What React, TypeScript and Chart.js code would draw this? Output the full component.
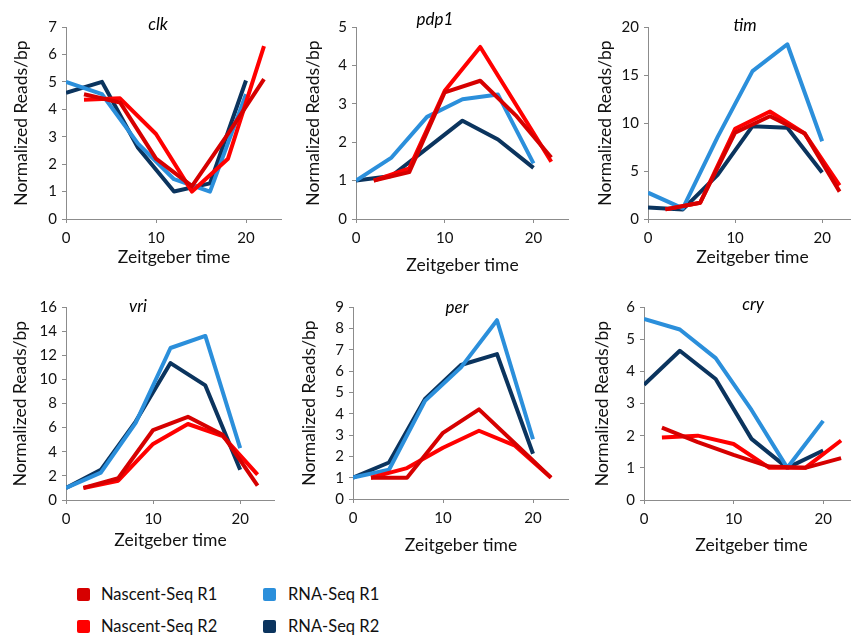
import React, { useEffect, useRef } from "react";
import { Chart, registerables } from "chart.js";
Chart.register(...registerables);

// ---- data ----
const nascentTimes = [2, 6, 10, 14, 18, 22];
const rnaTimes = [0, 4, 8, 12, 16, 20];

const clkNascentR1 = [4.55, 4.25, 2.2, 1.2, 3.1, 5.1];
const clkNascentR2 = [4.35, 4.4, 3.1, 1.0, 2.2, 6.3];
const clkRnaR1 = [5.0, 4.55, 2.75, 1.45, 1.0, 4.55];
const clkRnaR2 = [4.6, 5.0, 2.6, 1.0, 1.3, 5.05];

const pdp1NascentR1 = [1.0, 1.22, 3.3, 3.6, 2.7, 1.6];
const pdp1NascentR2 = [1.0, 1.32, 3.34, 4.48, 2.99, 1.49];
const pdp1RnaR1 = [1.0, 1.6, 2.66, 3.12, 3.24, 1.45];
const pdp1RnaR2 = [1.0, 1.12, 1.84, 2.56, 2.07, 1.33];

const timNascentR1 = [1.0, 1.7, 9.0, 10.7, 8.9, 2.85];
const timNascentR2 = [1.0, 1.7, 9.4, 11.2, 8.9, 3.5];
const timRnaR1 = [2.74, 1.1, 8.56, 15.4, 18.2, 8.1];
const timRnaR2 = [1.2, 1.0, 4.6, 9.67, 9.5, 4.85];

const vriNascentR1 = [1.0, 1.8, 5.8, 6.9, 5.4, 1.2];
const vriNascentR2 = [1.0, 1.6, 4.65, 6.3, 5.3, 2.1];
const vriRnaR1 = [1.0, 2.27, 6.4, 12.6, 13.6, 4.3];
const vriRnaR2 = [1.0, 2.5, 6.5, 11.35, 9.5, 2.5];

const perNascentR1 = [1.0, 1.0, 3.1, 4.2, 2.6, 1.0];
const perNascentR2 = [1.0, 1.45, 2.4, 3.2, 2.5, 1.0];
const perRnaR1 = [1.0, 1.37, 4.6, 6.17, 8.38, 2.8];
const perRnaR2 = [1.0, 1.71, 4.69, 6.28, 6.79, 2.12];

const cryNascentR1 = [2.25, 1.8, 1.4, 1.04, 1.0, 1.3];
const cryNascentR2 = [1.94, 2.0, 1.74, 1.0, 1.0, 1.85];
const cryRnaR1 = [5.63, 5.3, 4.41, 2.8, 1.0, 2.46];
const cryRnaR2 = [3.58, 4.64, 3.76, 1.9, 1.0, 1.54];

const seriesNames = ["Nascent-Seq R1", "Nascent-Seq R2", "RNA-Seq R1", "RNA-Seq R2"];
const seriesColors = ["#d60000", "#ff0000", "#2b8fdb", "#0b345e"];

const geneData: Record<string, number[][]> = {
  clk: [clkNascentR1, clkNascentR2, clkRnaR1, clkRnaR2],
  pdp1: [pdp1NascentR1, pdp1NascentR2, pdp1RnaR1, pdp1RnaR2],
  tim: [timNascentR1, timNascentR2, timRnaR1, timRnaR2],
  vri: [vriNascentR1, vriNascentR2, vriRnaR1, vriRnaR2],
  per: [perNascentR1, perNascentR2, perRnaR1, perRnaR2],
  cry: [cryNascentR1, cryNascentR2, cryRnaR1, cryRnaR2],
};

// ---- layout ----
const panels = [
  { name: "clk", left: 0, top: 0, axisLeft: 66, axisRight: 282, plotTop: 27, plotBottom: 219, yMax: 7, yStep: 1, yTitleX: 21, xTitleY: 257, titleX: 158, titleY: 25 },
  { name: "pdp1", left: 280, top: 0, axisLeft: 356, axisRight: 569, plotTop: 27, plotBottom: 219, yMax: 5, yStep: 1, yTitleX: 313, xTitleY: 265, titleX: 435, titleY: 20 },
  { name: "tim", left: 565, top: 0, axisLeft: 648, axisRight: 857, plotTop: 27, plotBottom: 219, yMax: 20, yStep: 5, yTitleX: 605, xTitleY: 257, titleX: 745, titleY: 26 },
  { name: "vri", left: 0, top: 280, axisLeft: 66, axisRight: 275, plotTop: 307, plotBottom: 500, yMax: 16, yStep: 2, yTitleX: 20, xTitleY: 540, titleX: 138, titleY: 307 },
  { name: "per", left: 280, top: 280, axisLeft: 353, axisRight: 569, plotTop: 307, plotBottom: 499, yMax: 9, yStep: 1, yTitleX: 309, xTitleY: 545, titleX: 457, titleY: 308 },
  { name: "cry", left: 565, top: 280, axisLeft: 644, axisRight: 859, plotTop: 307, plotBottom: 500, yMax: 6, yStep: 1, yTitleX: 602, xTitleY: 545, titleX: 753, titleY: 305 },
];

const FONT = "Lato, 'Open Sans', sans-serif";
const AXIS_COLOR = "#8c8c8c";
const TEXT_COLOR = "#111";
const XH = 60;
const TITLE_SIZE = 17.5;
const TITLE_LH = TITLE_SIZE * 1.2;

const titlePlugin = {
  id: "panelTitle",
  afterDraw(chart: any, _args: any, opts: any) {
    const ctx = chart.ctx;
    ctx.save();
    ctx.font = `italic 17px ${FONT}`;
    ctx.fillStyle = "#000";
    ctx.textAlign = "center";
    ctx.textBaseline = "middle";
    ctx.fillText(opts.text, opts.x, opts.y);
    ctx.restore();
  },
};

function Panel({ p }: { p: (typeof panels)[number] }) {
  const ref = useRef<HTMLCanvasElement>(null);
  const width = p.axisRight - p.left;
  const height = p.plotBottom + XH - p.top;
  useEffect(() => {
    const vals = geneData[p.name];
    const datasets = vals.map((arr, i) => ({
      label: seriesNames[i],
      data: arr.map((v, j) => ({ x: (i < 2 ? nascentTimes : rnaTimes)[j], y: v })),
      borderColor: seriesColors[i],
      backgroundColor: seriesColors[i],
      borderWidth: 4,
      pointRadius: 0,
      tension: 0,
      borderJoinStyle: "round" as const,
      fill: false,
    }));
    const chart = new Chart(ref.current!, {
      type: "line",
      data: { datasets },
      options: {
        animation: false,
        responsive: false,
        layout: { padding: { top: p.plotTop - p.top, left: 0, right: 0, bottom: 0 } },
        plugins: {
          legend: { display: false },
          tooltip: { enabled: false },
          panelTitle: { text: p.name, x: p.titleX - p.left, y: p.titleY - p.top },
        } as any,
        scales: {
          x: {
            type: "linear",
            min: 0,
            max: 24,
            ticks: { stepSize: 10, includeBounds: false, color: TEXT_COLOR, font: { family: FONT, size: 15 }, padding: 6, maxRotation: 0 },
            grid: { drawOnChartArea: false, drawTicks: true, tickLength: 4, color: AXIS_COLOR },
            border: { color: AXIS_COLOR, width: 1 },
            title: {
              display: true,
              text: "Zeitgeber time",
              color: TEXT_COLOR,
              font: { family: FONT, size: TITLE_SIZE },
              padding: { top: 0, bottom: p.plotBottom + XH - p.xTitleY - TITLE_LH / 2 },
            },
            afterFit: (s: any) => { s.height = XH; },
          },
          y: {
            type: "linear",
            min: 0,
            max: p.yMax,
            ticks: { stepSize: p.yStep, color: TEXT_COLOR, font: { family: FONT, size: 15 }, padding: 5 },
            grid: { drawOnChartArea: false, drawTicks: true, tickLength: 4, color: AXIS_COLOR },
            border: { color: AXIS_COLOR, width: 1 },
            title: {
              display: true,
              text: "Normalized Reads/bp",
              color: TEXT_COLOR,
              font: { family: FONT, size: TITLE_SIZE },
              padding: { top: p.yTitleX - p.left - TITLE_LH / 2, bottom: 0 },
            },
            afterFit: (s: any) => { s.width = p.axisLeft - p.left; },
          },
        },
      },
      plugins: [titlePlugin],
    });
    return () => chart.destroy();
  }, []);
  return (
    <canvas
      ref={ref}
      width={width}
      height={height}
      style={{ position: "absolute", left: p.left, top: p.top, width, height }}
    />
  );
}

const legendItems = [
  { i: 0, x: 77, y: 588, tx: 101 },
  { i: 1, x: 77, y: 620, tx: 101 },
  { i: 2, x: 263, y: 588, tx: 288 },
  { i: 3, x: 263, y: 620, tx: 288 },
];

export default function App() {
  return (
    <div
      style={{
        position: "fixed",
        left: 0,
        top: 0,
        width: 851,
        height: 636,
        overflow: "hidden",
        background: "#fff",
      }}
    >
      {panels.map((p) => (
        <Panel key={p.name} p={p} />
      ))}
      {legendItems.map((it) => (
        <React.Fragment key={it.i}>
          <div
            style={{
              position: "absolute",
              left: it.x,
              top: it.y,
              width: 13,
              height: 13,
              borderRadius: 2,
              background: seriesColors[it.i],
            }}
          />
          <div
            style={{
              position: "absolute",
              left: it.tx,
              top: it.y - 4,
              fontFamily: FONT,
              fontSize: 16.5,
              lineHeight: "21px",
              color: TEXT_COLOR,
              whiteSpace: "nowrap",
            }}
          >
            {seriesNames[it.i]}
          </div>
        </React.Fragment>
      ))}
    </div>
  );
}
